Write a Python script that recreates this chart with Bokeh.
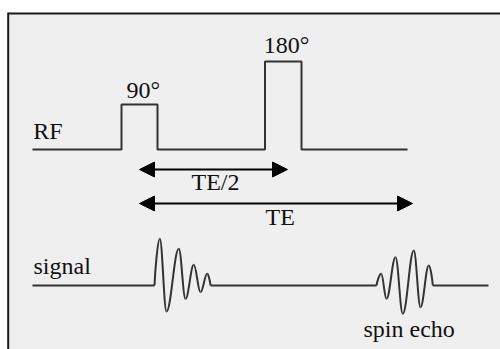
from bokeh.plotting import figure
from bokeh.models import Range1d, Arrow, NormalHead
from bokeh.core.properties import value
from bokeh.embed import file_html
from bokeh.resources import INLINE

# ---- data (time in ms, amplitudes in diagram units) ----
rf_t = [-10.7, -1.8, -1.8, 1.8, 1.8, 12.55, 12.55, 16.2, 16.2, 26.8]
rf_amp = [0, 0, 45, 45, 0, 0, 88, 88, 0, 0]

sig_line_t = [-10.7, 34.9]

fid_t = [1.5, 2.03, 2.7, 3.93, 4.6, 5.43, 6.1, 6.77, 7.1]
fid_amp = [0, 46.7, -26, 36.7, -13.3, 20.7, -6.7, 11.7, 0]

echo_t = [23.7, 24.17, 24.7, 25.6, 26.33, 27.43, 28.1, 28.93, 29.33]
echo_amp = [0, 11.7, -13.3, 28.3, -28.3, 35, -21.7, 20, 0]

te_half = 14.8
te = 27.3

labels = ["RF", "90°", "180°", "TE/2", "TE", "signal", "spin echo"]

# ---- layout ----
RF_BASE = 200
SIG_BASE = 64
ARROW1_Y = 180
ARROW2_Y = 146
LINE_C = "#333333"
TXT_C = "#111111"
FONT = value("Liberation Serif")

p = figure(width=500, height=349, x_range=Range1d(-13.9, 36.1), y_range=Range1d(0, 349),
           output_backend="svg", toolbar_location=None, title=None, min_border=0,
           background_fill_color="white", border_fill_color="white")
p.xaxis.visible = False
p.yaxis.visible = False
p.grid.visible = False
p.outline_line_color = None

# panel and border
p.quad(left=-13.1, right=36.1, bottom=0, top=336, fill_color="#efefef", line_color=None)
p.segment(x0=-13.1, y0=336, x1=36.1, y1=336, line_color="#1a1a1a", line_width=2)
p.segment(x0=-13.13, y0=0, x1=-13.13, y1=337, line_color="#1a1a1a", line_width=2)

# RF line
p.line(rf_t, [RF_BASE + a for a in rf_amp], line_color=LINE_C, line_width=2)

# signal baseline pieces
p.line([sig_line_t[0], fid_t[0]], [SIG_BASE, SIG_BASE], line_color=LINE_C, line_width=2)
p.line([fid_t[-1], echo_t[0]], [SIG_BASE, SIG_BASE], line_color=LINE_C, line_width=2)
p.line([echo_t[-1], sig_line_t[1]], [SIG_BASE, SIG_BASE], line_color=LINE_C, line_width=2)


def wave(ts, amps):
    x0s, y0s, x1s, y1s, cx0s, cy0s, cx1s, cy1s = [], [], [], [], [], [], [], []
    n = len(ts)
    for i in range(n - 1):
        xa, ya = ts[i], SIG_BASE + amps[i]
        xb, yb = ts[i + 1], SIG_BASE + amps[i + 1]
        dx = xb - xa
        if i == 0:
            c0 = (xa + 0.1 * dx, ya + 0.3 * (yb - ya))
        else:
            c0 = (xa + 0.38 * dx, ya)
        if i == n - 2:
            c1 = (xb - 0.1 * dx, yb + 0.3 * (ya - yb))
        else:
            c1 = (xb - 0.38 * dx, yb)
        x0s.append(xa); y0s.append(ya); x1s.append(xb); y1s.append(yb)
        cx0s.append(c0[0]); cy0s.append(c0[1]); cx1s.append(c1[0]); cy1s.append(c1[1])
    p.bezier(x0=x0s, y0=y0s, x1=x1s, y1=y1s, cx0=cx0s, cy0=cy0s, cx1=cx1s, cy1=cy1s,
             line_color=LINE_C, line_width=2)


wave(fid_t, fid_amp)
wave(echo_t, echo_amp)

# arrows
for y, xe in [(ARROW1_Y, te_half), (ARROW2_Y, te)]:
    p.add_layout(Arrow(x_start=0, y_start=y, x_end=xe, y_end=y, line_width=2, line_color="black",
                       start=NormalHead(size=15, fill_color="black", line_color="black", line_width=1),
                       end=NormalHead(size=15, fill_color="black", line_color="black", line_width=1)))

# labels
lx = [-10.63, -1.3, 12.43, 5.2, 12.6, -10.6, 22.4]
ly = [218.7, 259.7, 304.7, 167.3, 133, 83.7, 20.3]
p.text(x=lx, y=ly, text=labels, text_font=FONT, text_font_size="24px", text_color=TXT_C,
       text_align="left", text_baseline="alphabetic")

open("out.html", "w").write(file_html(p, INLINE))
